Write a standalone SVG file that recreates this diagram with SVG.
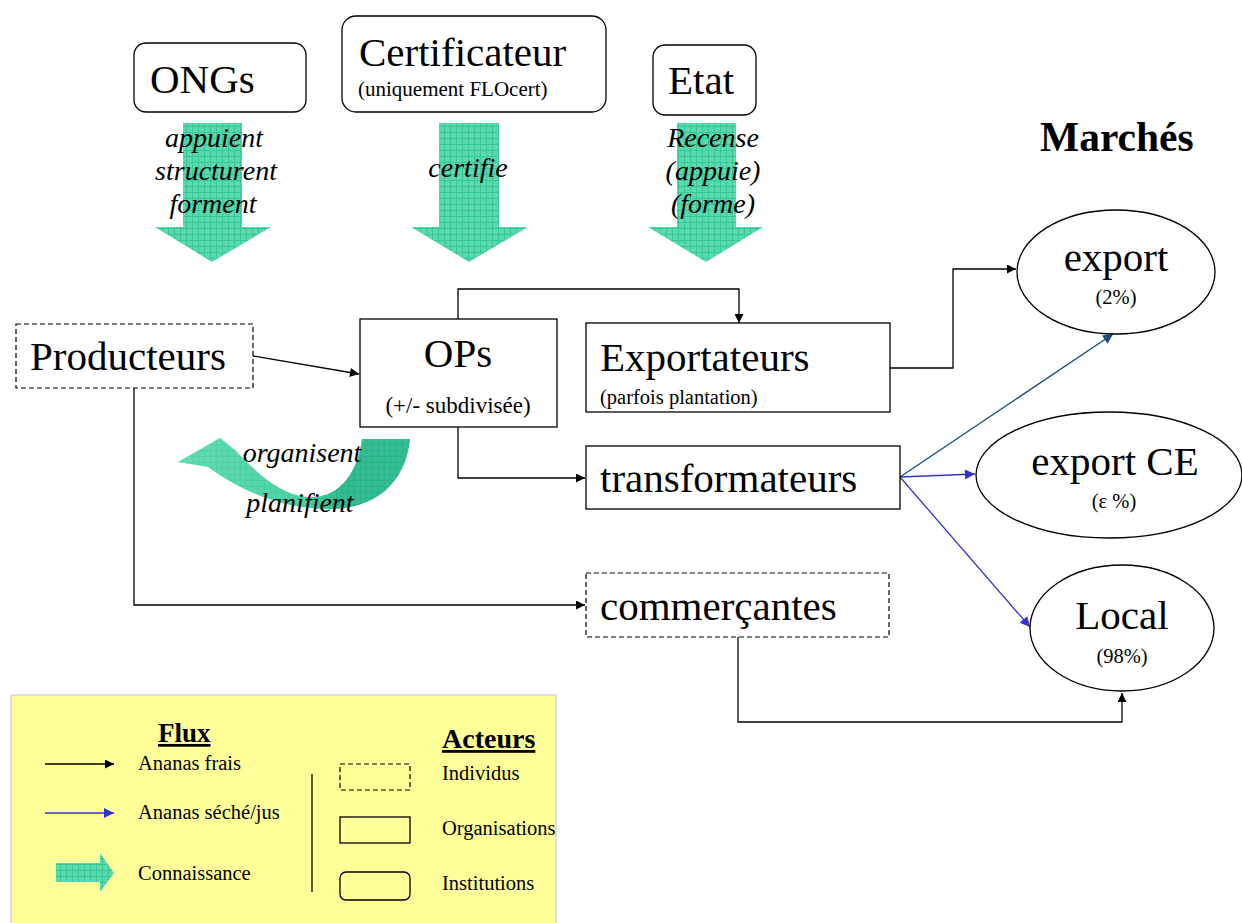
<svg xmlns="http://www.w3.org/2000/svg" width="1242" height="923" viewBox="0 0 1242 923">
<style>
  text { font-family: "Liberation Serif", "Times New Roman", serif; fill: #000; }
  .big { font-size: 41px; }
  .sub { font-size: 20.5px; }
  .verb { font-size: 28px; font-style: italic; }
  .leg { font-size: 20.5px; }
  .box { fill: #fff; stroke: #000; stroke-width: 1.3; }
  .dash { fill: #fff; stroke: #000; stroke-width: 1.2; stroke-dasharray: 5 3; }
  .blk { fill: none; stroke: #000; stroke-width: 1.3; }
  .blu { fill: none; stroke: #3333cc; stroke-width: 1.3; }
  .dblu { fill: none; stroke: #1a4a80; stroke-width: 1.3; }
  .green { fill: url(#mesh); }
</style>
<defs>
  <pattern id="mesh" width="6" height="6" patternUnits="userSpaceOnUse">
    <rect width="6" height="6" fill="#5cd8ae"/>
    <path d="M0 0.5H6M0.5 0V6" stroke="#36c898" stroke-width="1"/>
  </pattern>
  <linearGradient id="curveg" x1="0" y1="0" x2="1" y2="0">
    <stop offset="0" stop-color="#6adcb4"/>
    <stop offset="0.55" stop-color="#45cfa0"/>
    <stop offset="0.7" stop-color="#1fa880"/>
    <stop offset="1" stop-color="#22b086"/>
  </linearGradient>
  <marker id="ah" viewBox="0 0 10 10" refX="10" refY="5" markerWidth="10" markerHeight="9" markerUnits="userSpaceOnUse" orient="auto">
    <path d="M0 0L10 5L0 10Z" fill="#000"/>
  </marker>
  <marker id="ahb" viewBox="0 0 10 10" refX="10" refY="5" markerWidth="11" markerHeight="10" markerUnits="userSpaceOnUse" orient="auto">
    <path d="M0 0L10 5L0 10Z" fill="#3333cc"/>
  </marker>
  <marker id="ahd" viewBox="0 0 10 10" refX="10" refY="5" markerWidth="11" markerHeight="10" markerUnits="userSpaceOnUse" orient="auto">
    <path d="M0 0L10 5L0 10Z" fill="#1a4a80"/>
  </marker>
</defs>
<rect width="1242" height="923" fill="#fff"/>

<!-- knowledge arrows -->
<g id="knowledge">
  <path class="green" d="M183 123H242V227H271L212 262L155 227H183Z"/>
  <path class="green" d="M439 123H499V227H528L469 262L411 227H439Z"/>
  <path class="green" d="M677 123H736V227H763L706 262L648 227H677Z"/>
  <path d="M178 462L220 438L235 450C256 472 281 497 312 497C340 497 358 472 362 439L410 439C406 482 376 509 330 509C290 509 250 497 208 467Z" fill="url(#curveg)"/>
  <path d="M178 462L220 438L235 450C256 472 281 497 312 497C340 497 358 472 362 439L410 439C406 482 376 509 330 509C290 509 250 497 208 467Z" fill="url(#mesh)" opacity="0.35"/>
  <text class="verb" x="214" y="147" text-anchor="middle">appuient</text>
  <text class="verb" x="216" y="180" text-anchor="middle">structurent</text>
  <text class="verb" x="213" y="213" text-anchor="middle">forment</text>
  <text class="verb" x="468" y="177" text-anchor="middle">certifie</text>
  <text class="verb" x="713" y="147" text-anchor="middle">Recense</text>
  <text class="verb" x="713" y="180" text-anchor="middle">(appuie)</text>
  <text class="verb" x="713" y="213" text-anchor="middle">(forme)</text>
  <text class="verb" x="302" y="462" text-anchor="middle">organisent</text>
  <text class="verb" x="300" y="512" text-anchor="middle">planifient</text>
</g>

<!-- connectors -->
<g id="connectors">
  <path class="blk" d="M253 356L359 374" marker-end="url(#ah)"/>
  <path class="blk" d="M458 320V289H739V323" marker-end="url(#ah)"/>
  <path class="blk" d="M458 427V478H585" marker-end="url(#ah)"/>
  <path class="blk" d="M134 388V605H585" marker-end="url(#ah)"/>
  <path class="blk" d="M889 368H953V269H1016" marker-end="url(#ah)"/>
  <path class="blk" d="M738 637V722H1122V693" marker-end="url(#ah)"/>
  <path class="dblu" d="M900 477L1113 334" marker-end="url(#ahd)"/>
  <path class="blu" d="M900 477L975 474" marker-end="url(#ahb)"/>
  <path class="blu" d="M900 477L1030 627" marker-end="url(#ahb)"/>
</g>

<g id="ongs">
  <rect class="box" x="134" y="43" width="172" height="69" rx="12"/>
  <text class="big" x="150" y="93">ONGs</text>
</g>
<g id="certificateur">
  <rect class="box" x="342" y="16" width="264" height="96" rx="14"/>
  <text class="big" x="359" y="66">Certificateur</text>
  <text class="sub" x="358" y="96" style="font-size:21px">(uniquement FLOcert)</text>
</g>
<g id="etat">
  <rect class="box" x="653" y="45" width="103" height="70" rx="12"/>
  <text class="big" x="668" y="94">Etat</text>
</g>
<g id="marches">
  <text x="1040" y="151" style="font-size:41.5px;font-weight:bold">Marchés</text>
</g>
<g id="producteurs">
  <rect class="dash" x="16" y="324" width="237" height="64"/>
  <text class="big" x="30" y="370">Producteurs</text>
</g>
<g id="ops">
  <rect class="box" x="360" y="319" width="197" height="108"/>
  <text class="big" x="458" y="367" text-anchor="middle">OPs</text>
  <text class="sub" x="458" y="413" text-anchor="middle" style="font-size:23px">(+/- subdivisée)</text>
</g>
<g id="exportateurs">
  <rect class="box" x="586" y="323" width="304" height="89"/>
  <text class="big" x="600" y="371">Exportateurs</text>
  <text class="sub" x="600" y="404">(parfois plantation)</text>
</g>
<g id="transformateurs">
  <rect class="box" x="586" y="446" width="314" height="63"/>
  <text class="big" x="600" y="492">transformateurs</text>
</g>
<g id="commercantes">
  <rect class="dash" x="586" y="573" width="303" height="64"/>
  <text class="big" x="600" y="620">commerçantes</text>
</g>
<g id="export">
  <ellipse class="box" cx="1116" cy="272" rx="99" ry="62"/>
  <text class="big" x="1116" y="271" text-anchor="middle">export</text>
  <text class="sub" x="1116" y="304" text-anchor="middle">(2%)</text>
</g>
<g id="exportce">
  <ellipse class="box" cx="1109" cy="475" rx="133" ry="63"/>
  <text class="big" x="1115" y="475" text-anchor="middle">export CE</text>
  <text class="sub" x="1114" y="508" text-anchor="middle">(ε %)</text>
</g>
<g id="local">
  <ellipse class="box" cx="1122" cy="628" rx="92" ry="63"/>
  <text class="big" x="1122" y="629" text-anchor="middle">Local</text>
  <text class="sub" x="1122" y="663" text-anchor="middle">(98%)</text>
</g>

<!-- legend -->
<g id="legend">
  <rect x="11" y="695" width="545" height="232" fill="#ffff99" stroke="#c8c8ee" stroke-width="1.2"/>
  <text x="158" y="742" style="font-size:27px;font-weight:bold;text-decoration:underline">Flux</text>
  <text x="442" y="748" style="font-size:28px;font-weight:bold;text-decoration:underline">Acteurs</text>
  <path class="blk" d="M45 764H114" marker-end="url(#ah)"/>
  <text class="leg" x="138" y="770">Ananas frais</text>
  <path class="blu" d="M45 813H114" marker-end="url(#ahb)"/>
  <text class="leg" x="138" y="819">Ananas séché/jus</text>
  <path class="green" d="M56 863H100V853L114 873L100 892V882H56Z"/>
  <text class="leg" x="138" y="880">Connaissance</text>
  <path class="blk" d="M312 774V892"/>
  <rect x="340" y="764" width="70" height="26" fill="none" stroke="#000" stroke-width="1.2" stroke-dasharray="5 3"/>
  <text class="leg" x="442" y="780">Individus</text>
  <rect x="340" y="817" width="70" height="26" fill="none" stroke="#000" stroke-width="1.3"/>
  <text class="leg" x="442" y="835">Organisations</text>
  <rect x="340" y="872" width="70" height="28" rx="6" fill="none" stroke="#000" stroke-width="1.3"/>
  <text class="leg" x="442" y="890">Institutions</text>
</g>
</svg>
